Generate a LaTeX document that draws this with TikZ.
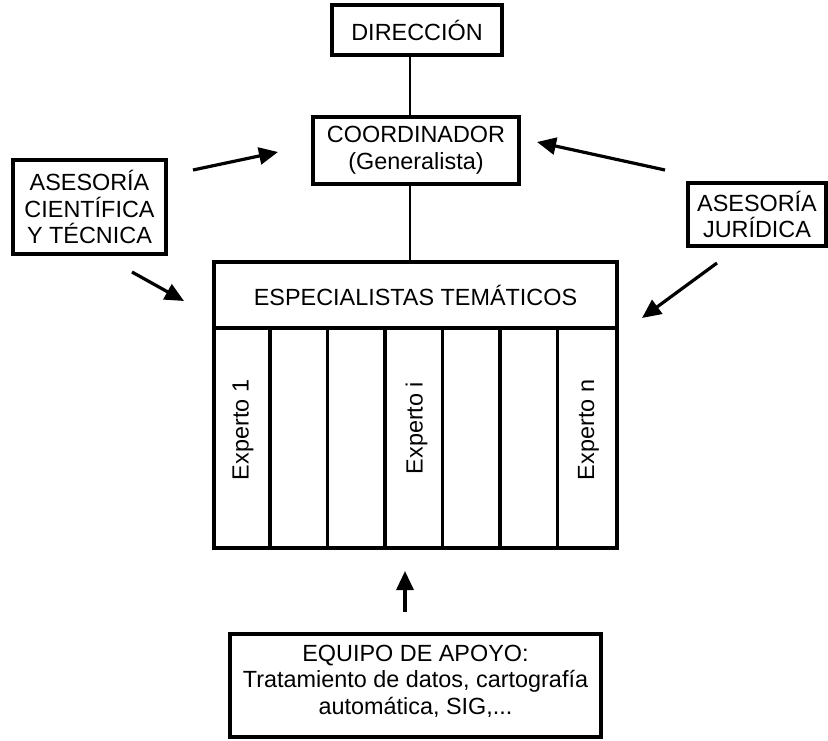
\documentclass[tikz,border=0pt]{standalone}
\usepackage{fontspec}
\setmainfont{Liberation Sans}
\usetikzlibrary{arrows.meta,calc}
\begin{document}
\begin{tikzpicture}[x=1pt,y=-1pt,
  box/.style={draw=black, line width=3.4pt, fill=white, inner sep=0pt, align=center,
    font=\fontsize{23.4}{26.5}\selectfont},
  conn/.style={line width=2.4pt},
  arr/.style={line width=3.2pt, -{Triangle[length=19pt,width=17pt]}},
  lbl/.style={font=\fontsize{23.4}{26.5}\selectfont, inner sep=0pt, align=center}]
\useasboundingbox (0,0) rectangle (828,741);
\fill[white] (0,0) rectangle (828,741);
% boxes
\node[box, minimum width=170pt, minimum height=50pt] (dir) at (417,30) {DIRECCI\'ON};
\node[box, minimum width=206pt, minimum height=67pt] (coord) at (416,150.5) {COORDINADOR\\(Generalista)};
\node[box, minimum width=153pt, minimum height=94pt] (cient) at (89.5,207) {ASESOR\'IA\\CIENT\'IFICA\\Y T\'ECNICA};
\node[box, minimum width=138pt, minimum height=63pt] (jur) at (757,214.5) {ASESOR\'IA\\JUR\'IDICA};
\node[box, minimum width=403pt, minimum height=66pt] (esp) at (415.5,295) {ESPECIALISTAS TEM\'ATICOS};
\node[box, minimum width=403pt, minimum height=220pt] (body) at (415.5,438) {};
\node[box, minimum width=371pt, minimum height=103pt] (equipo) at (415.5,685.5) {};
\node[lbl] (equipotxt) at (415.5,681) {EQUIPO DE APOYO:\\Tratamiento de datos, cartograf\'ia\\autom\'atica, SIG,...};
% columns
\foreach \i in {1,...,6} {
  \draw[line width=3.4pt] ($(body.north west)+(\i*57.57,0)$) -- ($(body.south west)+(\i*57.57,0)$);
}
\node[lbl, rotate=90] (e1) at (243,430) {Experto 1};
\node[lbl, rotate=90] (ei) at (416.5,428) {Experto i};
\node[lbl, rotate=90] (en) at (588.5,430) {Experto n};
% connectors
\draw[conn] ([xshift=-7pt]dir.south) -- ([xshift=-6pt]coord.north);
\draw[conn] ([xshift=-6pt]coord.south) -- ([xshift=-5.5pt]esp.north);
% arrows
\coordinate (a1s) at (193,170); \coordinate (a1e) at (278,152);
\coordinate (a2s) at (665,170); \coordinate (a2e) at (537,142);
\coordinate (a3s) at (132,272); \coordinate (a3e) at (184,301);
\coordinate (a4s) at (717,263); \coordinate (a4e) at (642,318);
\coordinate (a5s) at (405,612); \coordinate (a5e) at (405,571);
\draw[arr] (a1s) -- (a1e);
\draw[arr] (a2s) -- (a2e);
\draw[arr] (a3s) -- (a3e);
\draw[arr] (a4s) -- (a4e);
\draw[arr] (a5s) -- (a5e);
\end{tikzpicture}
\end{document}
